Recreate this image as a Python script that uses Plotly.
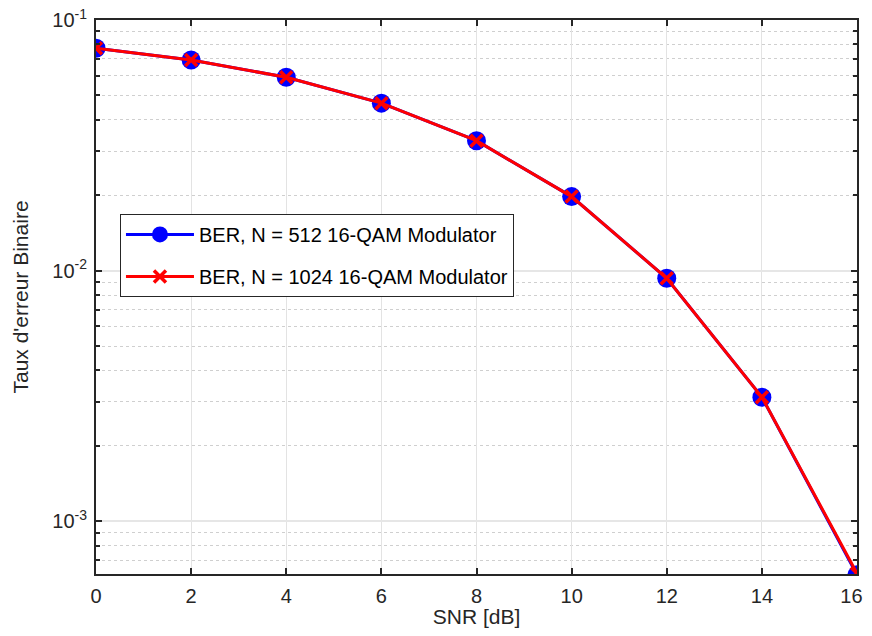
import plotly.graph_objects as go

snr = [0, 2, 4, 6, 8, 10, 12, 14, 16]
snr_ticktext = ["0", "2", "4", "6", "8", "10", "12", "14", "16\u00a0\u00a0"]
ber_512 = [0.0771, 0.0693, 0.0591, 0.0466, 0.0330, 0.01975, 0.00933, 0.00313, 0.000612]
ber_1024 = [0.0771, 0.0693, 0.0591, 0.0466, 0.0330, 0.01975, 0.00933, 0.00313, 0.000620]
name_512 = "BER, N = 512 16-QAM Modulator"
name_1024 = "BER, N = 1024 16-QAM Modulator"
ytickvals = [1e-3, 1e-2, 1e-1]
yticktext = ["10<sup>-3</sup>", "10<sup>-2</sup>", "10<sup>-1</sup>"]
yminorvals = [7e-4, 8e-4, 9e-4,
              2e-3, 3e-3, 4e-3, 5e-3, 6e-3, 7e-3, 8e-3, 9e-3,
              2e-2, 3e-2, 4e-2, 5e-2, 6e-2, 7e-2, 8e-2, 9e-2]

fig = go.Figure()
fig.add_trace(go.Scatter(
    x=snr, y=ber_512, name=name_512, mode="lines+markers", legendgroup="a",
    line=dict(color="#0000ff", width=3),
    marker=dict(symbol="circle", size=19, color="#0000ff"),
))
fig.add_trace(go.Scatter(
    x=snr, y=ber_1024, name=name_1024, mode="lines+markers", legendgroup="b",
    line=dict(color="#ff0000", width=3),
    marker=dict(symbol="x-thin", size=12, color="#ff0000",
                line=dict(color="#ff0000", width=3.5)),
))

font_family = "Liberation Sans, Arial, sans-serif"
fig.update_layout(
    width=864, height=620,
    margin=dict(l=88, r=15, t=12, b=54),
    paper_bgcolor="white", plot_bgcolor="white",
    font=dict(family=font_family, size=20, color="#262626"),
    showlegend=True,
    legend=dict(
        x=0.0315, y=0.65, xanchor="left", yanchor="top",
        bgcolor="white", bordercolor="#262626", borderwidth=1,
        font=dict(size=20, color="#000000"),
        itemwidth=68, tracegroupgap=13,
    ),
)
fig.update_xaxes(
    range=[0, 16], tickvals=snr, ticktext=snr_ticktext,
    ticks="inside", ticklen=6, tickwidth=1.5,
    tickcolor="#262626", automargin=False, ticklabelstandoff=3,
    ticklabeloverflow="allow",
    showline=True, linecolor="#262626", linewidth=2, mirror="ticks",
    showgrid=True, gridcolor="#e3e3e3", gridwidth=1,
    zeroline=False,
    title=dict(text="SNR [dB]", standoff=8, font=dict(size=21)),
    tickfont=dict(size=20),
)
fig.update_yaxes(
    type="log", range=[-3.2098, -1],
    tickvals=ytickvals, ticktext=yticktext,
    ticks="inside", ticklen=6, tickwidth=1.5, tickcolor="#262626",
    automargin=False, ticklabelstandoff=3, ticklabeloverflow="allow",
    showline=True, linecolor="#262626", linewidth=2, mirror="ticks",
    showgrid=True, gridcolor="#e6e6e6", gridwidth=1.5,
    zeroline=False,
    minor=dict(tickvals=yminorvals, ticks="inside", ticklen=4, tickcolor="#262626",
               showgrid=True, gridcolor="#cfcfcf", griddash="dot", gridwidth=1),
    title=dict(text="Taux d'erreur Binaire", standoff=18, font=dict(size=21)),
    tickfont=dict(size=20),
)

fig.write_html("out.html")
